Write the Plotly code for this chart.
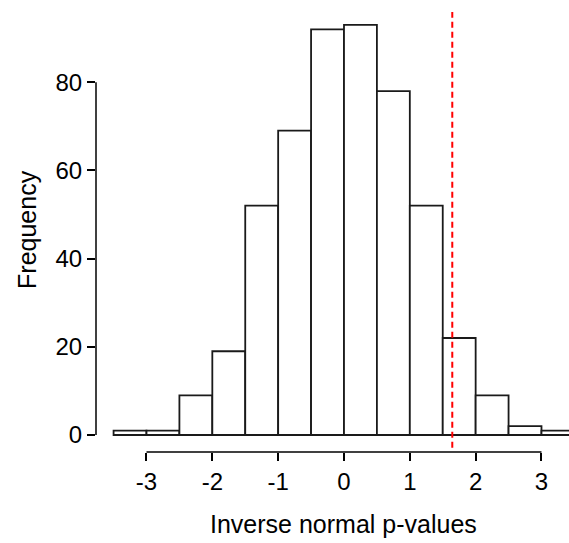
import plotly.graph_objects as go

# Data
bin_left = [-3.5, -3.0, -2.5, -2.0, -1.5, -1.0, -0.5, 0.0, 0.5, 1.0, 1.5, 2.0, 2.5, 3.0]
counts = [1, 1, 9, 19, 52, 69, 92, 93, 78, 52, 22, 9, 2, 1]
bin_width = 0.5
cutoff = 1.645
x_ticks = [-3, -2, -1, 0, 1, 2, 3]
y_ticks = [0, 20, 40, 60, 80]

centers = [b + bin_width / 2 for b in bin_left]

FONT = "Liberation Sans, Arial, Helvetica, sans-serif"

fig = go.Figure()
fig.add_trace(go.Bar(
    x=centers, y=counts, width=bin_width,
    marker=dict(color="white", line=dict(color="#1a1a1a", width=1.8)),
    hoverinfo="x+y",
))

fig.update_layout(
    width=569, height=543,
    margin=dict(l=96, r=0, t=0, b=91, pad=0),
    plot_bgcolor="white", paper_bgcolor="white",
    showlegend=False,
    font=dict(family=FONT, size=24, color="black"),
    xaxis=dict(
        range=[-3.767, 3.418], tickvals=x_ticks, ticktext=[str(v) for v in x_ticks],
        ticks="outside", ticklen=8, tickwidth=1.5, tickcolor="black",
        showgrid=False, zeroline=False, showline=False,
        tickfont=dict(family=FONT, size=24),
    ),
    yaxis=dict(
        range=[-3.85, 98.64], tickvals=y_ticks, ticktext=[str(v) for v in y_ticks],
        ticks="outside", ticklen=8, tickwidth=1.5, tickcolor="black",
        showgrid=False, zeroline=False, showline=False,
        tickfont=dict(family=FONT, size=24),
    ),
)

# R-style axis lines spanning only the tick range
fig.add_shape(type="line", xref="x", yref="paper", x0=x_ticks[0], x1=x_ticks[-1], y0=0, y1=0,
              line=dict(color="black", width=1.5))
fig.add_shape(type="line", xref="paper", yref="y", x0=0, x1=0, y0=y_ticks[0], y1=y_ticks[-1],
              line=dict(color="black", width=1.5))

# cutoff line
fig.add_shape(type="line", xref="x", yref="y", x0=cutoff, x1=cutoff, y0=-2.9, y1=95.9,
              line=dict(color="#FF0000", width=2, dash="6px,4px"))

# axis titles
fig.add_annotation(text="Inverse normal p-values", xref="x", yref="paper", x=0, y=0,
                   yanchor="middle", xanchor="center", yshift=-72, showarrow=False,
                   font=dict(family=FONT, size=25))
fig.add_annotation(text="Frequency", xref="paper", yref="y", x=0, y=46.5,
                   xanchor="center", yanchor="middle", xshift=-69, textangle=-90, showarrow=False,
                   font=dict(family=FONT, size=25))

fig.write_html("out.html")
